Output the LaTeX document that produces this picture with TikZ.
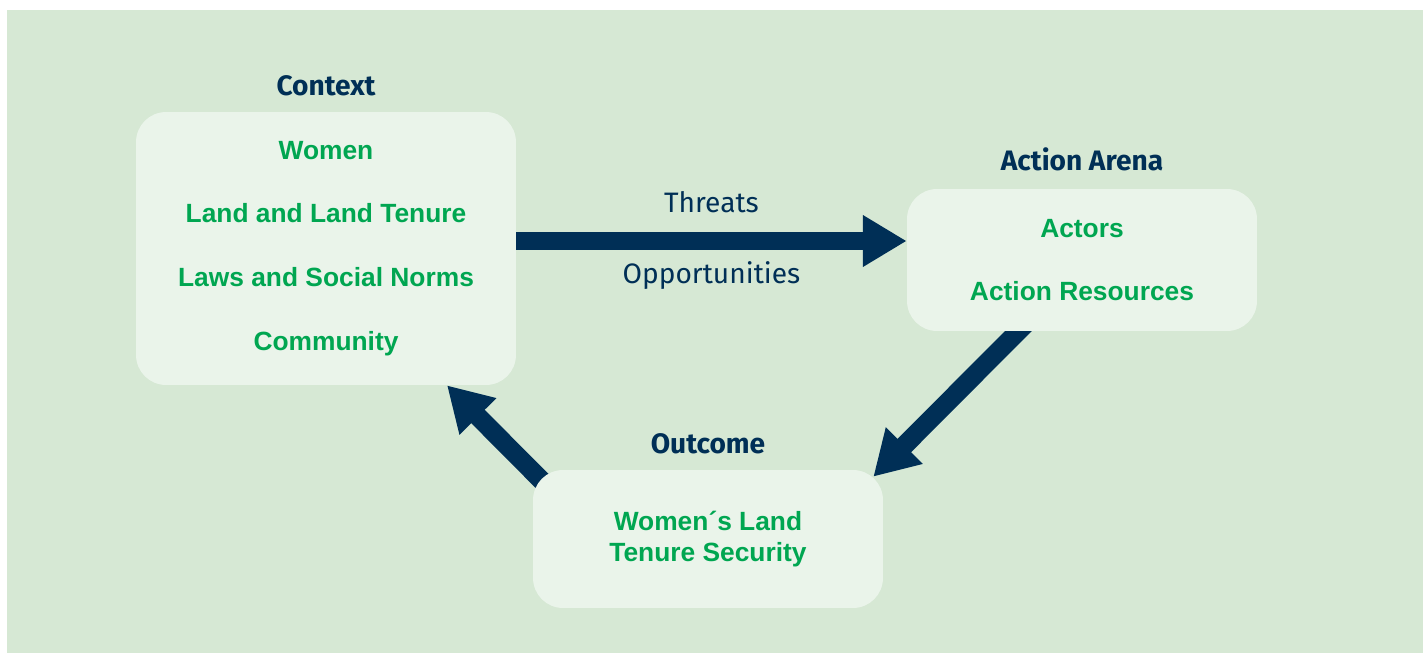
\documentclass[tikz,border=0pt]{standalone}
\usepackage{fontspec}
\setmainfont{Liberation Sans}
\newfontfamily\headfont{Fira Sans}
\usetikzlibrary{arrows.meta,calc,backgrounds}

\definecolor{bggreen}{HTML}{D6E8D4}
\definecolor{boxfill}{HTML}{EAF4EA}
\definecolor{navy}{HTML}{002F56}
\definecolor{textgreen}{HTML}{00A651}

\begin{document}
\begin{tikzpicture}[x=0.02cm, y=-0.02cm]

      \tikzset{box/.style={fill=boxfill, rounded corners=0.6cm, align=center, text=textgreen, font=\bfseries\fontsize{15}{36.3}\selectfont},
               head/.style={text=navy, font=\headfont\bfseries\fontsize{16}{19}\selectfont, inner sep=0pt, label distance=9pt},
               side/.style={text=navy, font=\headfont\fontsize{16}{19}\selectfont, inner sep=0pt},
               flow/.style={draw=navy, line width=10.8pt, -{Triangle[width=27.8pt, length=25pt]}}}
      \useasboundingbox (0,0) rectangle (1427,653);
%% Boxes
      	\node[box, minimum width=7.6cm, minimum height=5.46cm, label={[head]above:Context}] (ctx) at (326,248.5) {Women\\Land and Land Tenure\\Laws and Social Norms\\Community};
      	\node[box, minimum width=7cm, minimum height=2.84cm, label={[head, label distance=10pt]above:Action Arena}] (aa) at (1082,260) {Actors\\Action Resources};
      	\node[box, minimum width=7cm, minimum height=2.76cm, font=\bfseries\fontsize{15}{18.1}\selectfont, label={[head]above:Outcome}] (oc) at (708,539) {Women´s Land\\Tenure Security};
%Arrows
      \begin{scope}[on background layer]
		\fill[bggreen] (7,10) rectangle (1423,653);
		\draw[flow] (ctx.east |- 0,241) -- node[side, midway, above=10.5pt] (thr) {Threats} node[side, midway, below=6.5pt] (opp) {Opportunities} (aa.west |- 0,241);
		\draw[flow] ($(aa.south -| 1018,0)+(15,-15)$) -- ($(oc.north east)+(-10,7)$);
		\draw[flow] ($(oc.north west)+(23,25)$) -- (ctx.south -| 447,0);
      \end{scope}

	\end{tikzpicture}
\end{document}
